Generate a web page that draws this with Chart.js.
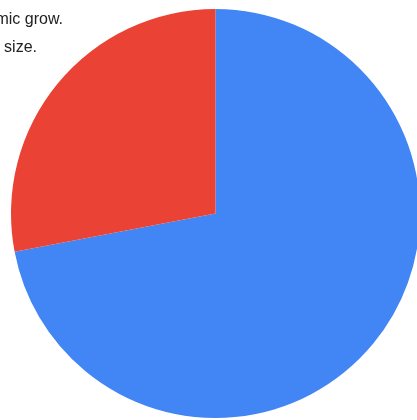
<!DOCTYPE html>
<html>
<head>
<meta charset="utf-8">
<script src="https://cdn.jsdelivr.net/npm/chart.js@4"></script>
<style>
  html, body { margin: 0; padding: 0; background: #fff; overflow: hidden; width: 417px; height: 420px; }
  #wrap { position: absolute; left: 0; top: 0; width: 420px; height: 420px; }
</style>
</head>
<body>
<div id="wrap"><canvas id="c"></canvas></div>
<script>
const categories = ["Economic grow.", "Population size."];
const values = [72, 28];
const colors = ["#4285F4", "#EA4335"];

const textPlugin = {
  id: 'sideText',
  afterDraw(chart) {
    const ctx = chart.ctx;
    ctx.save();
    ctx.font = '16px "Liberation Sans", Arial, sans-serif';
    ctx.fillStyle = '#222222';
    ctx.textAlign = 'right';
    ctx.textBaseline = 'alphabetic';
    ctx.fillText(categories[0], 63, 24);
    ctx.fillText(categories[1], 37, 52);
    ctx.restore();
  }
};

new Chart(document.getElementById('c'), {
  type: 'pie',
  data: {
    labels: categories,
    datasets: [{
      data: values,
      backgroundColor: colors,
      borderWidth: 0,
      hoverOffset: 0
    }]
  },
  options: {
    responsive: true,
    maintainAspectRatio: false,
    animation: false,
    layout: { padding: { left: 11, right: 0, top: 9, bottom: 2 } },
    plugins: {
      legend: { display: false },
      tooltip: { enabled: false },
      title: { display: false }
    }
  },
  plugins: [textPlugin]
});
</script>
</body>
</html>
